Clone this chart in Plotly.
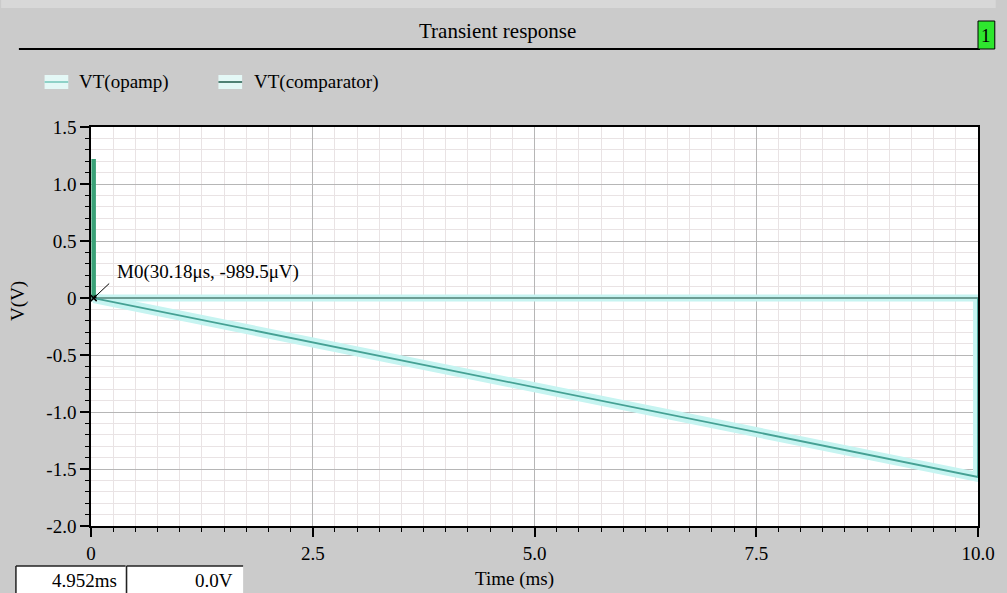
import plotly.graph_objects as go

# ---- data -------------------------------------------------------------
# op-amp output: linear ramp from the marker point to the end, then reset to 0
opamp_time_ms = [0.03018, 10.0, 10.0]
opamp_volts = [-0.0009895, -1.57, 0.0]

# comparator output sits at 0 V after an initial burst near t = 0
comp_time_ms = [0.0, 10.0]
comp_volts = [0.0, 0.0]
burst_time_ms = [0.03, 0.03]
burst_volts = [0.0, 1.22]

# marker M0
marker_time_ms = 0.03018
marker_volts = -0.0009895
marker_label = "M0(30.18\u03bcs, -989.5\u03bcV)"

x_tick_vals = [0, 2.5, 5.0, 7.5, 10.0]
x_tick_text = ["0", "2.5", "5.0", "7.5", "10.0"]
y_tick_vals = [1.5, 1.0, 0.5, 0.0, -0.5, -1.0, -1.5, -2.0]
y_tick_text = ["1.5", "1.0", "0.5", "0", "-0.5", "-1.0", "-1.5", "-2.0"]

cursor_time = "4.952ms"
cursor_value = "0.0V"

# ---- styling ----------------------------------------------------------
FONT = "Liberation Serif"
HALO = "#c6f4f1"
OPAMP_CORE = "#45a194"
COMP_CORE = "#4f8174"
BURST = "#3aa177"
PAPER_BG = "#cbcbcb"

W, H = 1007, 593
L, R, T, B = 91, 18, 127, 67
PW, PH = W - L - R, H - T - B

fig = go.Figure()

# halos
fig.add_trace(go.Scatter(x=comp_time_ms, y=comp_volts, mode="lines",
                         line=dict(color=HALO, width=7), showlegend=False,
                         hoverinfo="skip"))
fig.add_trace(go.Scatter(x=opamp_time_ms, y=opamp_volts, mode="lines",
                         line=dict(color=HALO, width=10), showlegend=False,
                         hoverinfo="skip"))
# core lines
fig.add_trace(go.Scatter(x=comp_time_ms, y=comp_volts, mode="lines",
                         name="VT(comparator)",
                         line=dict(color=COMP_CORE, width=1.5), showlegend=False))
fig.add_trace(go.Scatter(x=opamp_time_ms, y=opamp_volts, mode="lines",
                         name="VT(opamp)",
                         line=dict(color=OPAMP_CORE, width=1.8), showlegend=False))
fig.add_trace(go.Scatter(x=burst_time_ms, y=burst_volts, mode="lines",
                         line=dict(color=BURST, width=4.5), showlegend=False))
fig.add_trace(go.Scatter(x=[marker_time_ms], y=[marker_volts], mode="markers",
                         marker=dict(symbol="x-thin", size=6, color="black",
                                     line=dict(color="black", width=1.5)),
                         showlegend=False))

axis_common = dict(
    showline=True, linecolor="black", linewidth=1.5, mirror=True,
    ticks="outside", tickcolor="black", tickwidth=1.5, ticklen=9,
    showgrid=True, gridcolor="#b6b6b6", gridwidth=1, zeroline=False,
    tickfont=dict(family=FONT, size=19, color="black"),
)

fig.update_xaxes(range=[0, 10], tickmode="array", tickvals=x_tick_vals,
                 ticktext=x_tick_text,
                 minor=dict(dtick=0.25, tick0=0, ticklen=4, tickcolor="black",
                            tickwidth=1.2, showgrid=True, gridcolor="#e9e3e4",
                            gridwidth=1),
                 **axis_common)
fig.update_yaxes(range=[-2.0, 1.5], tickmode="array", tickvals=y_tick_vals,
                 ticktext=y_tick_text,
                 minor=dict(dtick=0.1, tick0=0, ticklen=4, tickcolor="black",
                            tickwidth=1.2, showgrid=True, gridcolor="#e9e3e4",
                            gridwidth=1),
                 **axis_common)


# page-pixel position -> paper coordinates (paper spans the plot area)
def px(x):
    return (x - L) / PW


def py(y):
    return (H - B - y) / PH


shapes = [
    # light strip along the top edge
    dict(type="rect", xref="paper", yref="paper", x0=px(0), x1=px(W),
         y0=py(8), y1=py(0), fillcolor="#d8d8d8", line=dict(width=0), layer="below"),
    # rule under the title
    dict(type="line", xref="paper", yref="paper", x0=px(18), x1=px(991),
         y0=py(49), y1=py(49), line=dict(color="black", width=2)),
    # numbered page tab
    dict(type="rect", xref="paper", yref="paper", x0=px(989), x1=px(1006),
         y0=py(49), y1=py(21), fillcolor="#2ee62e", line=dict(color="black", width=1)),
    # legend swatches
    dict(type="rect", xref="paper", yref="paper", x0=px(44), x1=px(68),
         y0=py(89), y1=py(75), fillcolor="#e4f8f6", line=dict(width=0)),
    dict(type="line", xref="paper", yref="paper", x0=px(44), x1=px(68),
         y0=py(82), y1=py(82), line=dict(color="#8fd2c8", width=2)),
    dict(type="rect", xref="paper", yref="paper", x0=px(220), x1=px(244),
         y0=py(89), y1=py(75), fillcolor="#e4f8f6", line=dict(width=0)),
    dict(type="line", xref="paper", yref="paper", x0=px(220), x1=px(244),
         y0=py(82), y1=py(82), line=dict(color=COMP_CORE, width=2)),
    # cursor readout boxes
    dict(type="rect", xref="paper", yref="paper", x0=px(15), x1=px(126),
         y0=py(H + 2), y1=py(566), fillcolor="white", line=dict(width=0)),
    dict(type="rect", xref="paper", yref="paper", x0=px(127), x1=px(245),
         y0=py(H + 2), y1=py(566), fillcolor="white", line=dict(width=0)),
    dict(type="line", xref="paper", yref="paper", x0=px(15), x1=px(126),
         y0=py(566), y1=py(566), line=dict(color="#222", width=1.5)),
    dict(type="line", xref="paper", yref="paper", x0=px(15), x1=px(15),
         y0=py(566), y1=py(H), line=dict(color="#222", width=1.5)),
    dict(type="line", xref="paper", yref="paper", x0=px(127), x1=px(245),
         y0=py(566), y1=py(566), line=dict(color="#222", width=1.5)),
    dict(type="line", xref="paper", yref="paper", x0=px(127), x1=px(127),
         y0=py(566), y1=py(H), line=dict(color="#222", width=1.5)),
]

txt = dict(family=FONT, size=19, color="black")
annotations = [
    dict(text="Transient response", xref="paper", yref="paper", x=px(503), y=py(31),
         xanchor="center", yanchor="middle", showarrow=False,
         font=dict(family=FONT, size=21, color="black")),
    dict(text="1", xref="paper", yref="paper", x=px(997.5), y=py(36),
         xanchor="center", yanchor="middle", showarrow=False, font=txt),
    dict(text="VT(opamp)", xref="paper", yref="paper", x=px(77), y=py(82),
         xanchor="left", yanchor="middle", showarrow=False, font=txt),
    dict(text="VT(comparator)", xref="paper", yref="paper", x=px(254), y=py(82),
         xanchor="left", yanchor="middle", showarrow=False, font=txt),
    dict(text="Time (ms)", xref="paper", yref="paper", x=px(520), y=py(579),
         xanchor="center", yanchor="middle", showarrow=False, font=txt),
    dict(text="V(V)", xref="paper", yref="paper", x=px(17), y=py(301),
         xanchor="center", yanchor="middle", showarrow=False, textangle=-90, font=txt),
    dict(text=cursor_time, xref="paper", yref="paper", x=px(119), y=py(580),
         xanchor="right", yanchor="middle", showarrow=False, font=txt),
    dict(text=cursor_value, xref="paper", yref="paper", x=px(237), y=py(580),
         xanchor="right", yanchor="middle", showarrow=False, font=txt),
    # marker label and its pointer
    dict(text=marker_label, x=marker_time_ms, y=marker_volts, xref="x", yref="y",
         xanchor="left", yanchor="middle", showarrow=False, xshift=21, yshift=26,
         font=txt),
    dict(text="", x=marker_time_ms, y=marker_volts, xref="x", yref="y",
         showarrow=True, ax=17, ay=-16, arrowhead=1, arrowsize=0.8,
         arrowwidth=1, arrowcolor="black"),
]

fig.update_layout(
    width=W, height=H,
    margin=dict(l=L, r=R, t=T, b=B),
    paper_bgcolor=PAPER_BG, plot_bgcolor="white",
    font=dict(family=FONT, color="black"),
    shapes=shapes, annotations=annotations,
    showlegend=False,
)

fig.write_html("out.html")
